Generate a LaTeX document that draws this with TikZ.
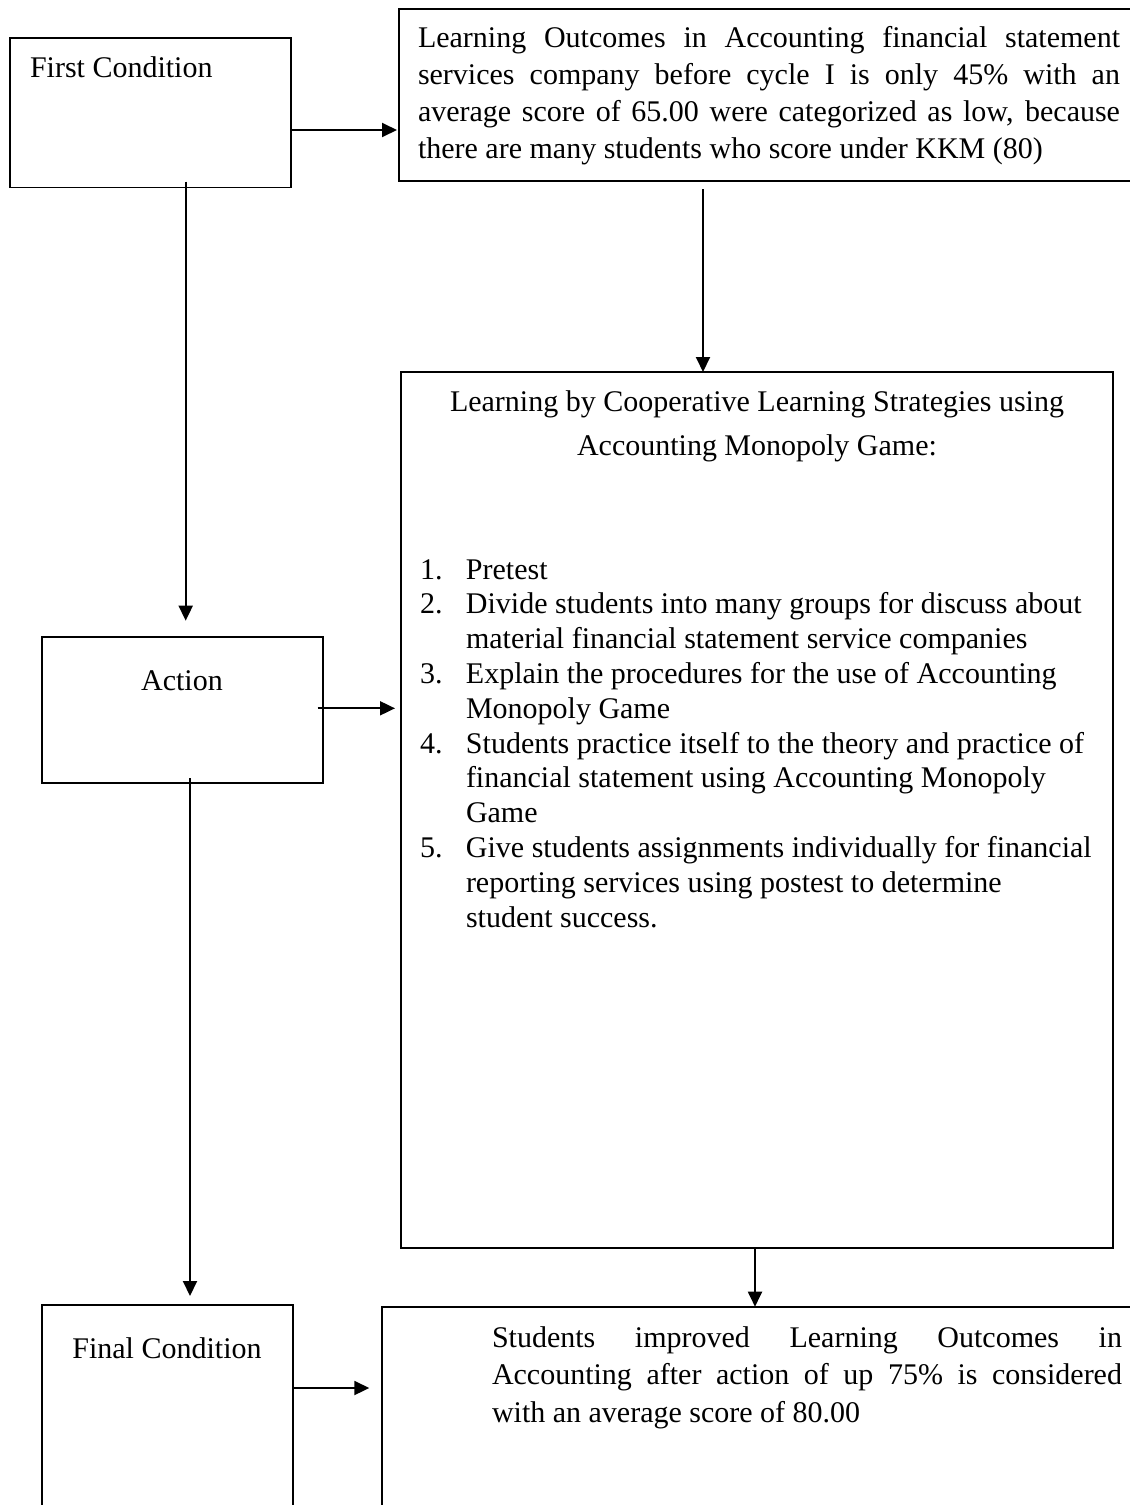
\documentclass[tikz,border=0pt]{standalone}
\usepackage{fontspec}
\setmainfont{Liberation Serif}
\usetikzlibrary{arrows.meta,calc}
\begin{document}
\begin{tikzpicture}[x=1pt,y=-1pt,
  box/.style={draw,line width=1.9pt,inner sep=0pt,outer sep=0pt},
  arr/.style={line width=1.9pt,-{Triangle[length=15pt,width=14pt]}},
  txt/.style={inner sep=0pt,outer sep=0pt,font=\fontsize{30}{37}\selectfont}]
\useasboundingbox (0,0) rectangle (1130,1505);
\clip (0,0) rectangle (1130,1505);
% boxes
\node[box,minimum width=281pt,minimum height=149.5pt] (A) at (150.5,112.75) {};
\node[box,minimum width=741pt,minimum height=172pt] (B) at (769.5,95) {};
\node[box,minimum width=281pt,minimum height=146.6pt] (C) at (182.2,710) {};
\node[box,minimum width=712pt,minimum height=876pt] (D) at (757,810) {};
\node[box,minimum width=250.7pt,minimum height=215pt] (E) at (167.35,1412.5) {};
\node[box,minimum width=757.7pt,minimum height=213.3pt] (F) at (761.15,1413.35) {};
% texts
\node[txt,anchor=base west] (tA) at (30,77) {First Condition};
\node[txt,anchor=base] (tC) at (182,690) {Action};
\node[txt,anchor=base] (tE) at (167,1358) {Final Condition};
\node[txt,anchor=base west] (tB) at (418,47) {\parbox[t]{702pt}{\fontsize{30}{37.3}\selectfont
\hbox to 702pt{Learning Outcomes in Accounting financial statement}
\hbox to 702pt{services company before cycle I is only 45\% with an}
\hbox to 702pt{average score of 65.00 were categorized as low, because}
\hbox{there are many students who score under KKM (80)}}};
\node[txt,anchor=base] (tD) at (757,411) {\parbox[t]{712pt}{\centering\fontsize{30}{44}\selectfont
Learning by Cooperative Learning Strategies using\\ Accounting Monopoly Game:}};
\node[txt,anchor=base west] (tL) at (420,579) {\fontsize{30}{34.8}\selectfont\begin{tabular}[t]{@{}p{46pt}@{}l@{}}
1. & Pretest\\
2. & Divide students into many groups for discuss about\\
 & material financial statement service companies\\
3. & Explain the procedures for the use of Accounting\\
 & Monopoly Game\\
4. & Students practice itself to the theory and practice of\\
 & financial statement using Accounting Monopoly\\
 & Game\\
5. & Give students assignments individually for financial\\
 & reporting services using postest to determine\\
 & student success.
\end{tabular}};
\node[txt,anchor=base west] (tF) at (492,1347) {\parbox[t]{630pt}{\fontsize{30}{37.5}\selectfont
\hbox to 630pt{Students improved Learning Outcomes in}
\hbox to 630pt{Accounting after action of up 75\% is considered}
\hbox{with an average score of 80.00}}};
% connector guide coordinates
\coordinate (yab) at (0,130);
\coordinate (xac) at (185.7,0);
\coordinate (xbd) at (703,0);
\coordinate (ycd) at (0,708.3);
\coordinate (xce) at (190,0);
\coordinate (xdf) at (755,0);
\coordinate (yef) at (0,1388);
% connectors
\draw[arr] (A.east |- yab) -- ($(B.west |- yab)+(-2,0)$);
\draw[arr] ($(A.south -| xac)+(0,-6)$) -- ($(C.north -| xac)+(0,-16)$);
\draw[arr] ($(B.south -| xbd)+(0,8)$) -- (D.north -| xbd);
\draw[arr] ($(C.east |- ycd)+(-5,0)$) -- ($(D.west |- ycd)+(-6,0)$);
\draw[arr] ($(C.south -| xce)+(0,-5)$) -- ($(E.north -| xce)+(0,-9)$);
\draw[arr] (D.south -| xdf) -- (F.north -| xdf);
\draw[arr] (E.east |- yef) -- ($(F.west |- yef)+(-13,0)$);
\end{tikzpicture}
\end{document}
